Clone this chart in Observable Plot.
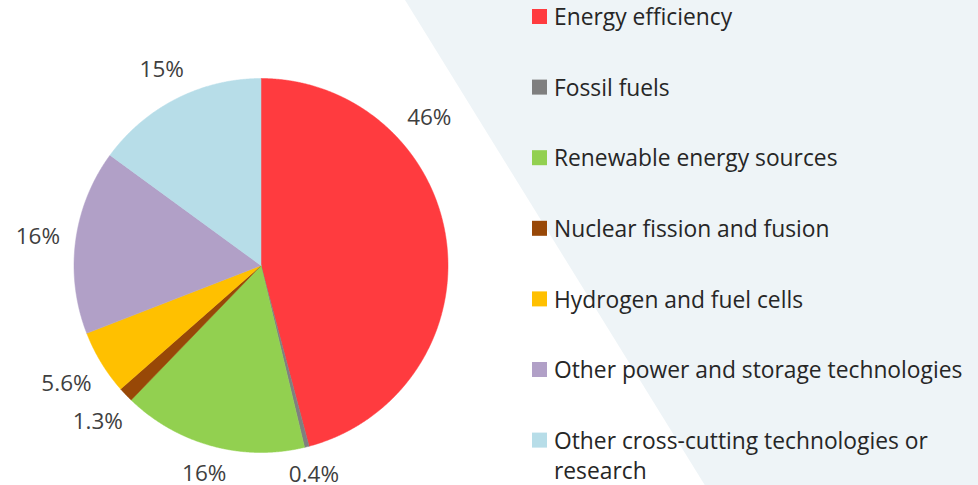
<!DOCTYPE html>
<html>
<head>
<meta charset="utf-8">
<script src="https://cdn.jsdelivr.net/npm/d3@7"></script>
<script src="https://cdn.jsdelivr.net/npm/@observablehq/plot@0.6"></script>
<style>
  html, body { margin: 0; padding: 0; background: #ffffff; }
  #chart svg { display: block; }
</style>
</head>
<body>
<div id="chart"></div>
<script>
// ---- data ----
const categories = [
  "Energy efficiency",
  "Fossil fuels",
  "Renewable energy sources",
  "Nuclear fission and fusion",
  "Hydrogen and fuel cells",
  "Other power and storage technologies",
  "Other cross-cutting technologies or research"
];
const shares = [46, 0.4, 16, 1.3, 5.6, 16, 15];
const shareLabels = ["46%", "0.4%", "16%", "1.3%", "5.6%", "16%", "15%"];
const colors = ["#FF3B3F", "#7F7F7F", "#92D050", "#984807", "#FFC000", "#B1A0C7", "#B7DDE8"];

// ---- layout ----
const W = 978, H = 485;
const cx = 260.5, cy = 265, R = 187;
const fontFamily = "'Open Sans', 'DejaVu Sans', sans-serif";
const legendFs = 22.8, labelFs = 22.5;
const legendTop = 16.5, legendStep = 70.6, legendLineH = 30;
const swatchX = 532, swatchSize = 15, legendTextX = 553.5;
const maxLegendChars = 38;

// text measuring helper
const ctx = document.createElement("canvas").getContext("2d");
function textWidth(s, fs) { ctx.font = `${fs}px ${fontFamily}`; return ctx.measureText(s).width; }

// wrap long legend entries at a word boundary
function wrap(s) {
  if (s.length <= maxLegendChars) return s;
  const words = s.split(" ");
  const lines = [];
  let cur = "";
  for (const w of words) {
    if (cur && (cur + " " + w).length > maxLegendChars) { lines.push(cur); cur = w; }
    else cur = cur ? cur + " " + w : w;
  }
  lines.push(cur);
  return lines.join("\n");
}

// pie geometry from the data
const arcs = d3.pie().sort(null).value(d => d)(shares);
const slicePts = [];
arcs.forEach((a, i) => {
  const cat = categories[i];
  slicePts.push({cat, x: cx, y: cy});
  const n = Math.max(2, Math.ceil((a.endAngle - a.startAngle) / (Math.PI / 720)));
  for (let k = 0; k <= n; k++) {
    const t = a.startAngle + (a.endAngle - a.startAngle) * k / n;
    slicePts.push({cat, x: cx + R * Math.sin(t), y: cy - R * Math.cos(t)});
  }
  slicePts.push({cat, x: cx, y: cy});
});

// label placement outside the pie, label box kept at a fixed gap from the rim
const gap = 15;
const labels = arcs.map((a, i) => {
  const span = a.endAngle - a.startAngle;
  const t = span > 2 * Math.PI / 3 ? a.startAngle + 0.295 * span : (a.startAngle + a.endAngle) / 2;
  const hw = textWidth(shareLabels[i], labelFs) / 2, hh = 0.36 * labelFs;
  const ext = Math.abs(Math.sin(t)) * hw + Math.abs(Math.cos(t)) * hh;
  const rr = R + gap + ext;
  return {text: shareLabels[i], x: cx + rr * Math.sin(t), y: cy - rr * Math.cos(t)};
});

// legend rows
const legend = categories.map((c, i) => {
  const yc = legendTop + i * legendStep;
  const text = wrap(c);
  const lines = text.split("\n").length;
  return {cat: c, text, yc, y1: yc - swatchSize / 2, y2: yc + swatchSize / 2, ty: yc + (lines - 1) * legendLineH / 2};
});

// background band
const band = [
  {y: 0, x1: 405, x2: W},
  {y: H, x1: 405 + 0.618 * H, x2: W}
];

const chart = Plot.plot({
  width: W,
  height: H,
  margin: 0,
  x: {domain: [0, W], range: [0, W], axis: null},
  y: {domain: [0, H], range: [0, H], axis: null},
  color: {domain: categories, range: colors},
  style: {background: "#ffffff", fontFamily},
  marks: [
    Plot.areaX(band, {x1: "x1", x2: "x2", y: "y", fill: "#EEF4F7"}),
    Plot.line(slicePts, {x: "x", y: "y", z: "cat", fill: "cat", stroke: "cat", strokeWidth: 0.5, curve: "linear"}),
    Plot.text(labels, {x: "x", y: "y", text: "text", fill: "#3F3F3F", fontSize: labelFs, fontFamily, textAnchor: "middle"}),
    Plot.rect(legend, {x1: swatchX, x2: swatchX + swatchSize, y1: "y1", y2: "y2", fill: "cat"}),
    Plot.text(legend, {x: legendTextX, y: "ty", text: "text", fill: "#262626", fontSize: legendFs, fontFamily,
      textAnchor: "start", lineAnchor: "middle", lineHeight: legendLineH / legendFs, dy: -1.5})
  ]
});
document.getElementById("chart").appendChild(chart);
</script>
</body>
</html>
